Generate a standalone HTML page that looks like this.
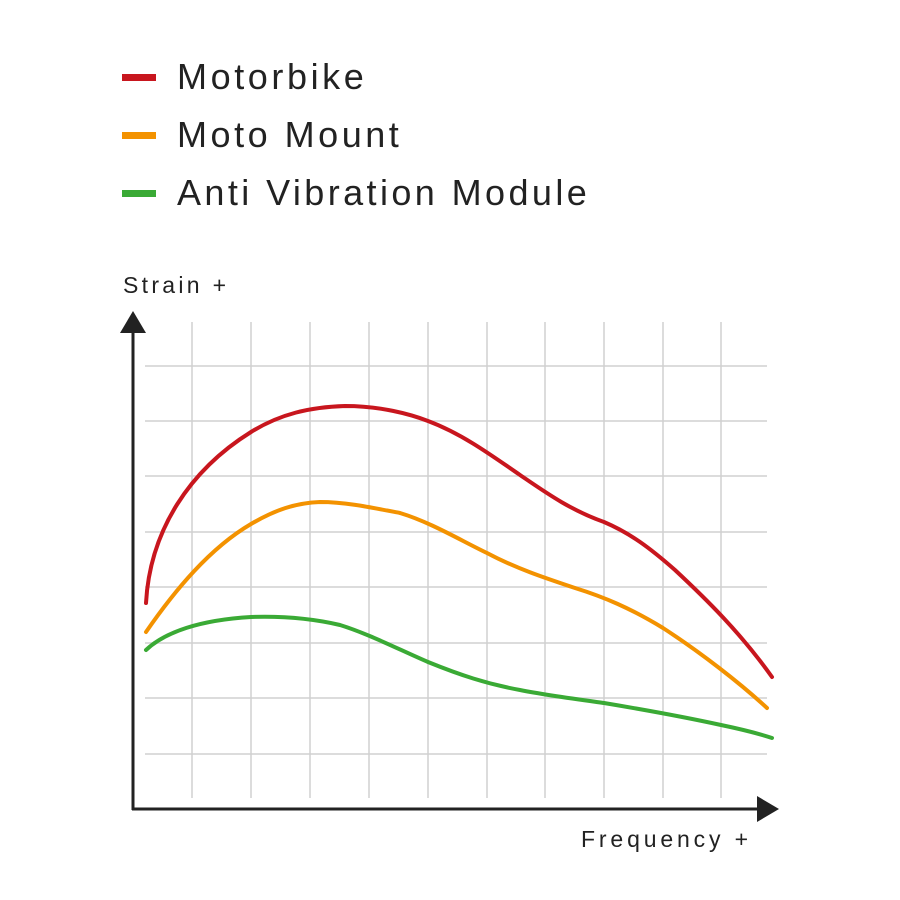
<!DOCTYPE html>
<html><head><meta charset="utf-8"><style>
body{margin:0;background:#fff;}
svg{display:block;font-family:"Liberation Sans",sans-serif;}
</style></head><body>
<svg width="900" height="900" viewBox="0 0 900 900">
<g fill="#222" font-size="36" letter-spacing="3.2">
<text x="177" y="89" textLength="190" lengthAdjust="spacing">Motorbike</text>
<text x="177" y="147" textLength="225" lengthAdjust="spacing">Moto Mount</text>
<text x="177" y="205" textLength="413" lengthAdjust="spacing">Anti Vibration Module</text>
</g>
<rect x="122" y="74" width="34" height="7" fill="#c8161e"/>
<rect x="122" y="132" width="34" height="7" fill="#f39200"/>
<rect x="122" y="190" width="34" height="7" fill="#3aaa35"/>
<text x="123" y="293" font-size="23" fill="#222" textLength="103" lengthAdjust="spacing">Strain +</text>
<text x="581" y="847" font-size="23" fill="#222" textLength="167" lengthAdjust="spacing">Frequency +</text>
<g stroke="#d0d0d0" stroke-width="1.5">
<line x1="192" y1="322" x2="192" y2="798"/><line x1="251" y1="322" x2="251" y2="798"/>
<line x1="310" y1="322" x2="310" y2="798"/><line x1="369" y1="322" x2="369" y2="798"/>
<line x1="428" y1="322" x2="428" y2="798"/><line x1="487" y1="322" x2="487" y2="798"/>
<line x1="545" y1="322" x2="545" y2="798"/><line x1="604" y1="322" x2="604" y2="798"/>
<line x1="663" y1="322" x2="663" y2="798"/><line x1="721" y1="322" x2="721" y2="798"/>
<line x1="145" y1="366" x2="767" y2="366"/><line x1="145" y1="421" x2="767" y2="421"/>
<line x1="145" y1="476" x2="767" y2="476"/><line x1="145" y1="532" x2="767" y2="532"/>
<line x1="145" y1="587" x2="767" y2="587"/><line x1="145" y1="643" x2="767" y2="643"/>
<line x1="145" y1="698" x2="767" y2="698"/><line x1="145" y1="754" x2="767" y2="754"/>
</g>
<g stroke="#222" stroke-width="3" fill="#222">
<line x1="133" y1="330" x2="133" y2="810"/>
<line x1="132" y1="809" x2="760" y2="809"/>
<polygon points="133,311 120,333 146,333" stroke="none"/>
<polygon points="779,809 757,796 757,822" stroke="none"/>
</g>
<g fill="none" stroke-width="4" stroke-linecap="round" stroke-linejoin="round">
<path stroke="#c8161e" d="M146,603 C150,530 190,470 251,432 C280,414 310,407 345,406 C380,406 410,414 428,421 C460,433 487,452 520,475 C545,492 570,510 604,522 C630,533 650,548 675,570 C705,598 740,632 772,677"/>
<path stroke="#f39200" d="M146,632 C175,590 210,548 251,524 C275,510 295,503 320,502 C345,502 369,507 400,513 C430,522 460,540 487,553 C515,568 545,578 575,588 C604,597 630,608 663,628 C700,652 740,683 767,708"/>
<path stroke="#3aaa35" d="M146,650 C165,632 200,620 251,617 C280,616 310,618 340,625 C369,634 400,650 428,662 C460,675 487,684 520,690 C545,695 575,699 604,703 C640,709 680,716 721,725 C745,730 760,734 772,738"/>
</g>
</svg>
</body></html>
